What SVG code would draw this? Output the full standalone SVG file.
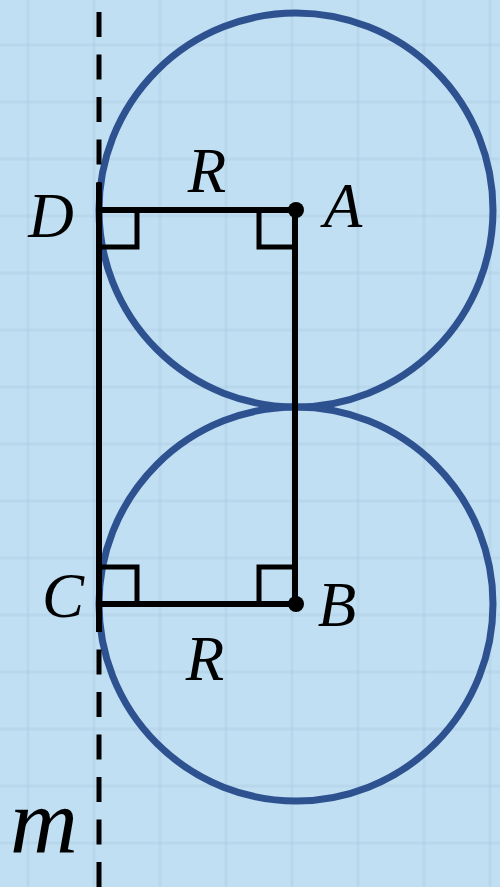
<svg xmlns="http://www.w3.org/2000/svg" width="500" height="887" viewBox="0 0 500 887">
<style>
.grid{stroke:#aacbe2;stroke-width:3;opacity:0.35}
.circ{fill:none;stroke:#2e5190;stroke-width:7}
.seg{stroke:#000;stroke-width:6;fill:none}
.mark{stroke:#000;stroke-width:5;fill:none}
.lbl{font-family:"Liberation Serif","Times New Roman",serif;font-style:italic;font-size:63px;fill:#000;text-anchor:middle}
</style>
<rect width="500" height="887" fill="#c0dff2"/>
<g id="grid">
<path class="grid" d="M28 0V887M94 0V887M160 0V887M226 0V887M292 0V887M358 0V887M424 0V887M490 0V887"/>
<path class="grid" d="M0 45H500M0 102H500M0 159H500M0 216H500M0 273H500M0 330H500M0 387H500M0 444H500M0 501H500M0 558H500M0 615H500M0 672H500M0 729H500M0 786H500M0 843H500"/>
</g>
<g id="circle-A"><circle class="circ" cx="296" cy="210" r="197"/></g>
<g id="circle-B"><circle class="circ" cx="296" cy="604" r="197"/></g>
<g id="connectors">
<line id="line-m" x1="99" y1="12" x2="99" y2="887" stroke="#000" stroke-width="5" stroke-dasharray="25 17.5"/>
<line class="seg" x1="99" y1="183" x2="99" y2="632" stroke-width="7"/>
<line class="seg" x1="99" y1="210" x2="296" y2="210"/>
<line class="seg" x1="295" y1="210" x2="295" y2="604"/>
<line class="seg" x1="99" y1="604" x2="296" y2="604"/>
<path class="mark" d="M99 247H137V210"/>
<path class="mark" d="M295 247H259V210"/>
<path class="mark" d="M99 567H137V604"/>
<path class="mark" d="M295 567H259V604"/>
</g>
<g id="point-A"><circle cx="296" cy="210" r="8"/><text class="lbl" x="343" y="227">A</text></g>
<g id="point-B"><circle cx="296" cy="604" r="8"/><text class="lbl" x="337" y="626">B</text></g>
<g id="point-C"><text class="lbl" x="63" y="617">C</text></g>
<g id="point-D"><text class="lbl" x="51" y="237">D</text></g>
<g id="label-R-top"><text class="lbl" x="207" y="192">R</text></g>
<g id="label-R-bottom"><text class="lbl" x="205" y="680">R</text></g>
<g id="label-m"><text class="lbl" x="44" y="853" style="font-size:94px">m</text></g>
</svg>
